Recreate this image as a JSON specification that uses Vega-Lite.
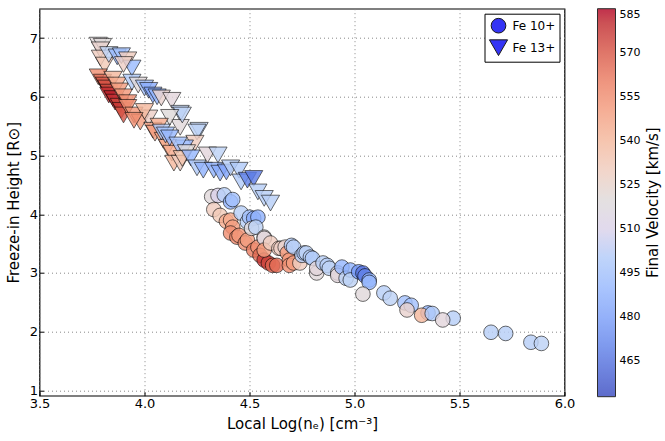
{
  "$schema": "https://vega.github.io/schema/vega-lite/v6.json",
  "width": 525,
  "height": 387,
  "autosize": {"type": "none"},
  "padding": {"left": 39.5, "top": 8.7, "right": 100.5, "bottom": 45.3},
  "config": {
    "font": "DejaVu Sans",
    "view": {"stroke": "#000000", "strokeWidth": 1.2},
    "axis": {
      "domain": false,
      "grid": true,
      "gridColor": "#888888",
      "gridDash": [1, 3],
      "gridOpacity": 1,
      "tickColor": "#000000",
      "tickSize": -4,
      "labelColor": "#000000",
      "labelFontSize": 13,
      "labelFlush": false,
      "titleColor": "#000000",
      "titleFontSize": 15,
      "titleFontWeight": "normal"
    }
  },
  "data": {
    "values": [
      {"ion": "Fe 10+", "logne": 4.32, "height": 4.30, "vel": 517},
      {"ion": "Fe 10+", "logne": 4.35, "height": 4.32, "vel": 510},
      {"ion": "Fe 10+", "logne": 4.38, "height": 4.33, "vel": 503},
      {"ion": "Fe 10+", "logne": 4.41, "height": 4.21, "vel": 488},
      {"ion": "Fe 10+", "logne": 4.42, "height": 4.25, "vel": 495},
      {"ion": "Fe 10+", "logne": 4.33, "height": 4.08, "vel": 530},
      {"ion": "Fe 10+", "logne": 4.36, "height": 3.98, "vel": 532},
      {"ion": "Fe 10+", "logne": 4.39, "height": 3.88, "vel": 545},
      {"ion": "Fe 10+", "logne": 4.41, "height": 3.90, "vel": 545},
      {"ion": "Fe 10+", "logne": 4.42, "height": 3.78, "vel": 550},
      {"ion": "Fe 10+", "logne": 4.41, "height": 3.68, "vel": 555},
      {"ion": "Fe 10+", "logne": 4.44, "height": 3.61, "vel": 557},
      {"ion": "Fe 10+", "logne": 4.45, "height": 3.64, "vel": 552},
      {"ion": "Fe 10+", "logne": 4.48, "height": 3.51, "vel": 555},
      {"ion": "Fe 10+", "logne": 4.49, "height": 3.56, "vel": 550},
      {"ion": "Fe 10+", "logne": 4.52, "height": 3.39, "vel": 560},
      {"ion": "Fe 10+", "logne": 4.54, "height": 3.44, "vel": 555},
      {"ion": "Fe 10+", "logne": 4.55, "height": 3.30, "vel": 565},
      {"ion": "Fe 10+", "logne": 4.57, "height": 3.22, "vel": 578},
      {"ion": "Fe 10+", "logne": 4.59, "height": 3.17, "vel": 575},
      {"ion": "Fe 10+", "logne": 4.61, "height": 3.13, "vel": 568},
      {"ion": "Fe 10+", "logne": 4.63, "height": 3.13, "vel": 565},
      {"ion": "Fe 10+", "logne": 4.46, "height": 4.02, "vel": 503},
      {"ion": "Fe 10+", "logne": 4.49, "height": 3.87, "vel": 503},
      {"ion": "Fe 10+", "logne": 4.50, "height": 3.95, "vel": 495},
      {"ion": "Fe 10+", "logne": 4.52, "height": 3.93, "vel": 485},
      {"ion": "Fe 10+", "logne": 4.54, "height": 3.95, "vel": 488},
      {"ion": "Fe 10+", "logne": 4.51, "height": 3.76, "vel": 517},
      {"ion": "Fe 10+", "logne": 4.53, "height": 3.78, "vel": 505},
      {"ion": "Fe 10+", "logne": 4.57, "height": 3.61, "vel": 517},
      {"ion": "Fe 10+", "logne": 4.57, "height": 3.59, "vel": 515},
      {"ion": "Fe 10+", "logne": 4.57, "height": 3.39, "vel": 550},
      {"ion": "Fe 10+", "logne": 4.60, "height": 3.51, "vel": 530},
      {"ion": "Fe 10+", "logne": 4.64, "height": 3.42, "vel": 530},
      {"ion": "Fe 10+", "logne": 4.65, "height": 3.42, "vel": 528},
      {"ion": "Fe 10+", "logne": 4.67, "height": 3.44, "vel": 525},
      {"ion": "Fe 10+", "logne": 4.68, "height": 3.34, "vel": 550},
      {"ion": "Fe 10+", "logne": 4.69, "height": 3.22, "vel": 552},
      {"ion": "Fe 10+", "logne": 4.69, "height": 3.13, "vel": 555},
      {"ion": "Fe 10+", "logne": 4.71, "height": 3.17, "vel": 550},
      {"ion": "Fe 10+", "logne": 4.70, "height": 3.47, "vel": 500},
      {"ion": "Fe 10+", "logne": 4.71, "height": 3.44, "vel": 503},
      {"ion": "Fe 10+", "logne": 4.74, "height": 3.17, "vel": 530},
      {"ion": "Fe 10+", "logne": 4.75, "height": 3.30, "vel": 503},
      {"ion": "Fe 10+", "logne": 4.76, "height": 3.34, "vel": 500},
      {"ion": "Fe 10+", "logne": 4.77, "height": 3.34, "vel": 505},
      {"ion": "Fe 10+", "logne": 4.79, "height": 3.27, "vel": 503},
      {"ion": "Fe 10+", "logne": 4.80, "height": 3.25, "vel": 500},
      {"ion": "Fe 10+", "logne": 4.82, "height": 3.00, "vel": 517},
      {"ion": "Fe 10+", "logne": 4.82, "height": 3.08, "vel": 515},
      {"ion": "Fe 10+", "logne": 4.85, "height": 3.17, "vel": 503},
      {"ion": "Fe 10+", "logne": 4.87, "height": 3.13, "vel": 503},
      {"ion": "Fe 10+", "logne": 4.88, "height": 3.08, "vel": 505},
      {"ion": "Fe 10+", "logne": 4.92, "height": 3.00, "vel": 517},
      {"ion": "Fe 10+", "logne": 4.92, "height": 2.96, "vel": 515},
      {"ion": "Fe 10+", "logne": 4.94, "height": 3.10, "vel": 490},
      {"ion": "Fe 10+", "logne": 4.96, "height": 2.91, "vel": 505},
      {"ion": "Fe 10+", "logne": 4.98, "height": 3.05, "vel": 488},
      {"ion": "Fe 10+", "logne": 4.98, "height": 2.88, "vel": 505},
      {"ion": "Fe 10+", "logne": 5.02, "height": 3.02, "vel": 478},
      {"ion": "Fe 10+", "logne": 5.04, "height": 3.00, "vel": 465},
      {"ion": "Fe 10+", "logne": 5.05, "height": 2.95, "vel": 470},
      {"ion": "Fe 10+", "logne": 5.07, "height": 2.88, "vel": 488},
      {"ion": "Fe 10+", "logne": 5.07, "height": 2.84, "vel": 490},
      {"ion": "Fe 10+", "logne": 5.04, "height": 2.64, "vel": 517},
      {"ion": "Fe 10+", "logne": 5.14, "height": 2.66, "vel": 503},
      {"ion": "Fe 10+", "logne": 5.17, "height": 2.57, "vel": 505},
      {"ion": "Fe 10+", "logne": 5.24, "height": 2.49, "vel": 495},
      {"ion": "Fe 10+", "logne": 5.27, "height": 2.45, "vel": 495},
      {"ion": "Fe 10+", "logne": 5.25, "height": 2.37, "vel": 525},
      {"ion": "Fe 10+", "logne": 5.35, "height": 2.32, "vel": 490},
      {"ion": "Fe 10+", "logne": 5.32, "height": 2.28, "vel": 540},
      {"ion": "Fe 10+", "logne": 5.37, "height": 2.31, "vel": 500},
      {"ion": "Fe 10+", "logne": 5.47, "height": 2.23, "vel": 503},
      {"ion": "Fe 10+", "logne": 5.42, "height": 2.20, "vel": 515},
      {"ion": "Fe 10+", "logne": 5.65, "height": 1.99, "vel": 503},
      {"ion": "Fe 10+", "logne": 5.72, "height": 1.97, "vel": 503},
      {"ion": "Fe 10+", "logne": 5.84, "height": 1.82, "vel": 503},
      {"ion": "Fe 10+", "logne": 5.89, "height": 1.80, "vel": 505},
      {"ion": "Fe 13+", "logne": 3.78, "height": 6.88, "vel": 517},
      {"ion": "Fe 13+", "logne": 3.80, "height": 6.86, "vel": 520},
      {"ion": "Fe 13+", "logne": 3.79, "height": 6.80, "vel": 525},
      {"ion": "Fe 13+", "logne": 3.79, "height": 6.66, "vel": 530},
      {"ion": "Fe 13+", "logne": 3.81, "height": 6.54, "vel": 532},
      {"ion": "Fe 13+", "logne": 3.83, "height": 6.72, "vel": 505},
      {"ion": "Fe 13+", "logne": 3.87, "height": 6.68, "vel": 490},
      {"ion": "Fe 13+", "logne": 3.89, "height": 6.70, "vel": 495},
      {"ion": "Fe 13+", "logne": 3.92, "height": 6.63, "vel": 530},
      {"ion": "Fe 13+", "logne": 3.94, "height": 6.49, "vel": 492},
      {"ion": "Fe 13+", "logne": 3.90, "height": 6.55, "vel": 528},
      {"ion": "Fe 13+", "logne": 3.78, "height": 6.34, "vel": 555},
      {"ion": "Fe 13+", "logne": 3.80, "height": 6.25, "vel": 565},
      {"ion": "Fe 13+", "logne": 3.81, "height": 6.20, "vel": 570},
      {"ion": "Fe 13+", "logne": 3.82, "height": 6.15, "vel": 572},
      {"ion": "Fe 13+", "logne": 3.83, "height": 6.08, "vel": 575},
      {"ion": "Fe 13+", "logne": 3.83, "height": 6.03, "vel": 580},
      {"ion": "Fe 13+", "logne": 3.85, "height": 5.97, "vel": 582},
      {"ion": "Fe 13+", "logne": 3.86, "height": 5.91, "vel": 580},
      {"ion": "Fe 13+", "logne": 3.88, "height": 5.84, "vel": 575},
      {"ion": "Fe 13+", "logne": 3.89, "height": 5.77, "vel": 578},
      {"ion": "Fe 13+", "logne": 3.90, "height": 5.69, "vel": 570},
      {"ion": "Fe 13+", "logne": 3.85, "height": 6.30, "vel": 540},
      {"ion": "Fe 13+", "logne": 3.87, "height": 6.20, "vel": 545},
      {"ion": "Fe 13+", "logne": 3.88, "height": 6.10, "vel": 550},
      {"ion": "Fe 13+", "logne": 3.90, "height": 6.00, "vel": 552},
      {"ion": "Fe 13+", "logne": 3.92, "height": 5.90, "vel": 555},
      {"ion": "Fe 13+", "logne": 3.94, "height": 6.25, "vel": 500},
      {"ion": "Fe 13+", "logne": 3.97, "height": 6.20, "vel": 517},
      {"ion": "Fe 13+", "logne": 4.00, "height": 6.15, "vel": 495},
      {"ion": "Fe 13+", "logne": 4.02, "height": 6.11, "vel": 485},
      {"ion": "Fe 13+", "logne": 4.04, "height": 6.03, "vel": 482},
      {"ion": "Fe 13+", "logne": 4.06, "height": 6.00, "vel": 490},
      {"ion": "Fe 13+", "logne": 4.08, "height": 5.98, "vel": 525},
      {"ion": "Fe 13+", "logne": 4.13, "height": 5.94, "vel": 515},
      {"ion": "Fe 13+", "logne": 4.17, "height": 5.72, "vel": 505},
      {"ion": "Fe 13+", "logne": 3.92, "height": 5.82, "vel": 555},
      {"ion": "Fe 13+", "logne": 3.95, "height": 5.69, "vel": 552},
      {"ion": "Fe 13+", "logne": 3.98, "height": 5.57, "vel": 550},
      {"ion": "Fe 13+", "logne": 4.02, "height": 5.64, "vel": 528},
      {"ion": "Fe 13+", "logne": 4.04, "height": 5.43, "vel": 548},
      {"ion": "Fe 13+", "logne": 4.00, "height": 5.75, "vel": 540},
      {"ion": "Fe 13+", "logne": 4.17, "height": 5.48, "vel": 517},
      {"ion": "Fe 13+", "logne": 4.26, "height": 5.43, "vel": 505},
      {"ion": "Fe 13+", "logne": 3.95, "height": 5.60, "vel": 555},
      {"ion": "Fe 13+", "logne": 4.05, "height": 5.38, "vel": 550},
      {"ion": "Fe 13+", "logne": 4.09, "height": 5.26, "vel": 548},
      {"ion": "Fe 13+", "logne": 4.11, "height": 5.14, "vel": 545},
      {"ion": "Fe 13+", "logne": 4.13, "height": 5.04, "vel": 545},
      {"ion": "Fe 13+", "logne": 4.14, "height": 4.87, "vel": 540},
      {"ion": "Fe 13+", "logne": 4.17, "height": 4.87, "vel": 530},
      {"ion": "Fe 13+", "logne": 4.18, "height": 5.69, "vel": 505},
      {"ion": "Fe 13+", "logne": 4.12, "height": 5.65, "vel": 520},
      {"ion": "Fe 13+", "logne": 4.07, "height": 5.50, "vel": 545},
      {"ion": "Fe 13+", "logne": 4.08, "height": 5.40, "vel": 500},
      {"ion": "Fe 13+", "logne": 4.10, "height": 5.35, "vel": 495},
      {"ion": "Fe 13+", "logne": 4.12, "height": 5.30, "vel": 490},
      {"ion": "Fe 13+", "logne": 4.25, "height": 5.40, "vel": 505},
      {"ion": "Fe 13+", "logne": 4.24, "height": 5.21, "vel": 530},
      {"ion": "Fe 13+", "logne": 4.19, "height": 5.13, "vel": 490},
      {"ion": "Fe 13+", "logne": 4.16, "height": 5.18, "vel": 495},
      {"ion": "Fe 13+", "logne": 4.20, "height": 5.05, "vel": 520},
      {"ion": "Fe 13+", "logne": 4.18, "height": 4.95, "vel": 535},
      {"ion": "Fe 13+", "logne": 4.22, "height": 4.96, "vel": 490},
      {"ion": "Fe 13+", "logne": 4.25, "height": 4.79, "vel": 500},
      {"ion": "Fe 13+", "logne": 4.28, "height": 4.75, "vel": 488},
      {"ion": "Fe 13+", "logne": 4.30, "height": 5.01, "vel": 515},
      {"ion": "Fe 13+", "logne": 4.35, "height": 5.01, "vel": 505},
      {"ion": "Fe 13+", "logne": 4.33, "height": 4.75, "vel": 488},
      {"ion": "Fe 13+", "logne": 4.36, "height": 4.70, "vel": 485},
      {"ion": "Fe 13+", "logne": 4.39, "height": 4.72, "vel": 482},
      {"ion": "Fe 13+", "logne": 4.41, "height": 4.79, "vel": 503},
      {"ion": "Fe 13+", "logne": 4.45, "height": 4.75, "vel": 500},
      {"ion": "Fe 13+", "logne": 4.46, "height": 4.55, "vel": 500},
      {"ion": "Fe 13+", "logne": 4.49, "height": 4.58, "vel": 470},
      {"ion": "Fe 13+", "logne": 4.52, "height": 4.61, "vel": 468},
      {"ion": "Fe 13+", "logne": 4.54, "height": 4.38, "vel": 503},
      {"ion": "Fe 13+", "logne": 4.57, "height": 4.27, "vel": 503},
      {"ion": "Fe 13+", "logne": 4.60, "height": 4.19, "vel": 503}
    ]
  },
  "layer": [
    {
      "mark": {
        "type": "point",
        "filled": true,
        "opacity": 0.82,
        "stroke": "#000000",
        "strokeWidth": 1,
        "strokeOpacity": 0.7
      },
      "encoding": {
        "x": {
          "field": "logne",
          "type": "quantitative",
          "title": "Local Log(nₑ) [cm⁻³]",
          "scale": {"domain": [3.5, 6.0], "nice": false, "zero": false},
          "axis": {"values": [3.5, 4.0, 4.5, 5.0, 5.5, 6.0], "format": ".1f", "labelPadding": 6, "titlePadding": 6}
        },
        "y": {
          "field": "height",
          "type": "quantitative",
          "title": "Freeze-in Height [R⊙]",
          "scale": {"domain": [0.91, 7.5], "nice": false, "zero": false},
          "axis": {"values": [1, 2, 3, 4, 5, 6, 7], "format": "d", "labelPadding": 6, "titlePadding": 8}
        },
        "size": {
          "field": "ion",
          "type": "nominal",
          "scale": {"domain": ["Fe 10+", "Fe 13+"], "range": [215, 330]},
          "legend": {
            "title": null,
            "orient": "top-right",
            "offset": 5,
            "padding": 4,
            "fillColor": "#ffffff",
            "strokeColor": "#000000",
            "symbolFillColor": "#1f1ff5",
            "symbolStrokeColor": "#000000",
            "symbolStrokeWidth": 1,
            "symbolOpacity": 0.9,
            "labelFontSize": 12,
            "labelColor": "#000000",
            "rowPadding": 2
          }
        },
        "shape": {
          "field": "ion",
          "type": "nominal",
          "scale": {"domain": ["Fe 10+", "Fe 13+"], "range": ["circle", "triangle-down"]},
          "legend": {
            "title": null,
            "orient": "top-right",
            "offset": 5,
            "padding": 4,
            "fillColor": "#ffffff",
            "strokeColor": "#000000",
            "symbolFillColor": "#1f1ff5",
            "symbolStrokeColor": "#000000",
            "symbolStrokeWidth": 1,
            "symbolOpacity": 0.9,
            "labelFontSize": 12,
            "labelColor": "#000000",
            "rowPadding": 2
          }
        },
        "color": {
          "field": "vel",
          "type": "quantitative",
          "scale": {
            "domain": [453, 585],
            "range": ["#3b4cc0", "#5977e3", "#7b9ff9", "#9ebeff", "#c0d4f5", "#dddcdc", "#f2cbb7", "#f7ac8e", "#ee8468", "#d65244", "#b40426"]
          },
          "legend": {
            "title": null,
            "orient": "none",
            "legendX": 558,
            "legendY": 0,
            "direction": "vertical",
            "gradientLength": 388,
            "gradientThickness": 18,
            "gradientStrokeColor": "#000000",
            "gradientStrokeWidth": 1,
            "values": [465, 480, 495, 510, 525, 540, 555, 570, 585],
            "labelFontSize": 11,
            "labelColor": "#000000",
            "labelOffset": 4
          }
        }
      }
    },
    {
      "mark": {"type": "point", "opacity": 0},
      "encoding": {
        "x": {"field": "logne", "type": "quantitative"},
        "y": {
          "field": "vel",
          "type": "quantitative",
          "title": "Final Velocity [km/s]",
          "scale": {"domain": [453, 585]},
          "axis": {
            "orient": "right",
            "labels": false,
            "ticks": false,
            "grid": false,
            "domain": false,
            "titleAngle": 270,
            "titlePadding": 96,
            "titleFontSize": 15
          }
        }
      }
    }
  ],
  "resolve": {"scale": {"y": "independent"}, "axis": {"y": "independent"}}
}
